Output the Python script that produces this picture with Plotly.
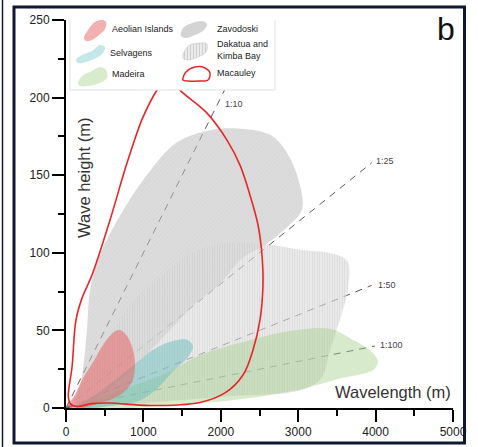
import plotly.graph_objects as go

# ---------------------------------------------------------------- data
# Outlines of each tsunami wave field in (wavelength m, wave height m)
aeolian_x = [26, 116, 207, 349, 504, 620, 698, 788, 866, 891, 853, 698, 439, 181, 26]
aeolian_y = [1.3, 8.4, 18, 29.6, 42.5, 49, 50.2, 46.4, 37.4, 26.4, 16.7, 8.4, 3.2, 0, 1.3]

selvagens_x = [155, 375, 630, 890, 1110, 1340, 1560, 1640, 1580, 1370, 1190, 960, 570, 245, 155]
selvagens_y = [1.3, 8.4, 18, 28, 37, 42.5, 44, 40, 33, 23, 13, 5, 1.3, 0, 1.3]

madeira_x = [120, 440, 960, 1300, 1730, 2250, 2890, 3410, 3670, 3930, 4030, 3970,
             3540, 3020, 2380, 1730, 1090, 440, 180, 120]
madeira_y = [1, 7, 16, 22.5, 34, 42, 49.6, 51, 45, 37, 30, 24.5,
             19, 12, 6.4, 3, 1, -1.3, -1.3, 1]

zavodoski_x = [120, 200, 270, 310, 440, 700, 1000, 1430, 1860, 2250, 2640, 2860,
               3020, 3050, 2890, 2570, 2290, 1950, 1730, 1340, 830, 440, 180, 120]
zavodoski_y = [2, 18, 50, 76, 99, 124, 147, 171, 179, 180, 176, 164,
               144, 128, 118, 105, 97, 78, 70, 50, 24, 8, 1, 2]

dakatua_x = [80, 310, 570, 890, 1210, 1600, 1990, 2510, 3020, 3480, 3640, 3640,
             3540, 3410, 3310, 3150, 2890, 2250, 1470, 700, 250, 80]
dakatua_y = [2, 24, 47, 70, 84, 99, 106, 106, 102, 99, 94, 76,
             57, 37, 20, 13.5, 10, 8, 5, 2, 0, 2]

macauley_x = [1189, 995, 788, 568, 336, 207, 129, 78, 30, 60, 150, 330, 560, 1085,
              1731, 2054, 2287, 2416, 2506, 2545, 2532, 2481, 2377, 2248, 2080,
              1822, 1473, 1318, 1189]
macauley_y = [206, 187.4, 157.8, 121, 85.7, 70.8, 56.7, 26.4, 7.5, 2.5, 1.0, 2.8, 3.2, 1.6,
              3.6, 9.7, 21.3, 37.4, 56.7, 79.2, 98.6, 117.9, 137.2, 156.5, 172.6,
              190, 204.8, 214.5, 206]

# Wave steepness reference lines (height : wavelength = 1 : n)
ratios = [10, 25, 50, 100]
ratio_labels = ["1:10", "1:25", "1:50", "1:100"]

x_ticks = [0, 1000, 2000, 3000, 4000, 5000]
y_ticks = [0, 50, 100, 150, 200, 250]

# ---------------------------------------------------------------- geometry
W, H = 478, 447
ML, MR, MT, MB = 66, 25, 20, 39
PW, PH = W - ML - MR, H - MT - MB


def pxx(p):
    """pixel column -> paper x"""
    return (p - ML) / PW


def pxy(p):
    """pixel row -> paper y"""
    return (H - MB - p) / PH


FONT = "Liberation Sans, Arial, sans-serif"

fig = go.Figure()

# steepness lines (under the wave fields)
ratio_end = {10: 2300, 25: 3950, 50: 3950, 100: 3990}
for r in ratios:
    xe = ratio_end[r]
    fig.add_trace(go.Scatter(
        x=[0, xe], y=[0, xe / r], mode="lines",
        line=dict(color="#5a5a5a", width=1, dash="7px,6px"),
        hoverinfo="skip", showlegend=False))

# wave fields
fig.add_trace(go.Scatter(
    x=zavodoski_x, y=zavodoski_y, mode="lines", fill="toself",
    line=dict(width=0, shape="spline", smoothing=1.0),
    fillcolor="rgba(185,185,185,0.55)",
    fillpattern=dict(shape="/", size=3, solidity=0.15,
                     bgcolor="rgba(190,190,190,0.55)", fgcolor="rgba(150,150,150,0.35)"),
    name="Zavodoski", showlegend=False, hoverinfo="skip"))

fig.add_trace(go.Scatter(
    x=dakatua_x, y=dakatua_y, mode="lines", fill="toself",
    line=dict(width=0, shape="spline", smoothing=1.0),
    fillpattern=dict(shape="|", size=2.5, solidity=0.3,
                     bgcolor="rgba(222,222,222,0.6)", fgcolor="rgba(160,160,160,0.55)"),
    name="Dakatua and Kimba Bay", showlegend=False, hoverinfo="skip"))

fig.add_trace(go.Scatter(
    x=madeira_x, y=madeira_y, mode="lines", fill="toself",
    line=dict(width=0, shape="spline", smoothing=1.0),
    fillcolor="rgba(160,205,130,0.42)",
    name="Madeira", showlegend=False, hoverinfo="skip"))

fig.add_trace(go.Scatter(
    x=selvagens_x, y=selvagens_y, mode="lines", fill="toself",
    line=dict(width=0, shape="spline", smoothing=1.0),
    fillcolor="rgba(105,190,190,0.5)",
    name="Selvagens", showlegend=False, hoverinfo="skip"))

fig.add_trace(go.Scatter(
    x=aeolian_x, y=aeolian_y, mode="lines", fill="toself",
    line=dict(width=0, shape="spline", smoothing=1.0),
    fillcolor="rgba(232,100,100,0.55)",
    name="Aeolian Islands", showlegend=False, hoverinfo="skip"))

fig.add_trace(go.Scatter(
    x=macauley_x, y=macauley_y, mode="lines",
    line=dict(color="#e8262a", width=1.6, shape="spline", smoothing=1.0),
    name="Macauley", showlegend=False, hoverinfo="skip"))

# steepness labels
label_pos = {10: (2030, 196), 25: (3980, 159), 50: (4005, 79), 100: (4031, 40.6)}
for r, t in zip(ratios, ratio_labels):
    lx, ly = label_pos[r]
    fig.add_annotation(x=lx, y=ly, xref="x", yref="y", text=t, showarrow=False,
                       xanchor="left", yanchor="middle",
                       font=dict(family=FONT, size=9, color="#444"))

# ---------------------------------------------------------------- key box
# drawn on a pixel-unit overlay so it sits above the curves
ov = dict(xaxis="x2", yaxis="y2", hoverinfo="skip", showlegend=False)
fig.add_trace(go.Scatter(
    x=[70, 275, 275, 70, 70], y=[18, 18, 90, 90, 18], mode="lines", fill="toself",
    fillcolor="white", line=dict(color="#e2e2e2", width=1), **ov))

key_items = [
    dict(xs=[84, 88, 95, 102, 106, 105, 99, 92, 86, 84],
         ys=[38, 30, 22, 20, 22, 29, 35, 40, 41, 38],
         fill="rgba(238,150,150,0.75)"),
    dict(xs=[76, 82, 92, 100, 105, 103, 96, 86, 78, 76],
         ys=[60, 55, 51, 45, 47, 53, 58, 62, 63, 60],
         fill="rgba(160,215,218,0.6)"),
    dict(xs=[78, 82, 92, 100, 106, 107, 100, 88, 80, 78],
         ys=[83, 76, 71, 67, 70, 78, 83, 86, 86, 83],
         fill="rgba(190,222,170,0.6)"),
    dict(xs=[181, 183, 192, 202, 207, 204, 195, 186, 181],
         ys=[36, 28, 23, 21, 24, 30, 35, 38, 36],
         fill="rgba(205,205,205,0.85)"),
]
for it in key_items:
    fig.add_trace(go.Scatter(
        x=it["xs"], y=it["ys"], mode="lines", fill="toself",
        fillcolor=it["fill"], line=dict(width=0, shape="spline", smoothing=1.0), **ov))

fig.add_trace(go.Scatter(
    x=[183, 185, 190, 200, 207, 206, 198, 188, 183],
    y=[58, 50, 45, 43, 44, 52, 57, 60, 58], mode="lines", fill="toself",
    line=dict(width=0.6, color="#c8c8c8", shape="spline", smoothing=1.0),
    fillpattern=dict(shape="|", size=3, solidity=0.3,
                     bgcolor="rgba(235,235,235,1)", fgcolor="rgba(170,170,170,1)"), **ov))

fig.add_trace(go.Scatter(
    x=[183, 186, 195, 205, 210, 208, 198, 188, 183],
    y=[80, 72, 67, 68, 73, 80, 81, 81, 80], mode="lines",
    line=dict(color="#e8262a", width=1.5, shape="spline", smoothing=1.0), **ov))

key_text = [
    ("Aeolian Islands", 110, 29),
    ("Selvagens", 108, 53),
    ("Madeira", 110, 74),
    ("Zavodoski", 215, 29),
    ("Dakatua and<br>Kimba Bay", 215, 50),
    ("Macauley", 215, 73),
]
for t, tx, ty in key_text:
    fig.add_annotation(x=pxx(tx), y=pxy(ty), xref="paper", yref="paper", text=t,
                       showarrow=False, xanchor="left", yanchor="middle", align="left",
                       font=dict(family=FONT, size=9, color="#222"))

# ---------------------------------------------------------------- titles
fig.add_annotation(x=pxx(84), y=pxy(178), xref="paper", yref="paper",
                   text="Wave height (m)", textangle=-90, showarrow=False,
                   xanchor="center", yanchor="middle",
                   font=dict(family=FONT, size=16.5, color="#333"))
fig.add_annotation(x=pxx(393), y=pxy(392), xref="paper", yref="paper",
                   text="Wavelength (m)", showarrow=False,
                   xanchor="center", yanchor="middle",
                   font=dict(family=FONT, size=16.5, color="#333"))
fig.add_annotation(x=pxx(446), y=pxy(29), xref="paper", yref="paper",
                   text="b", showarrow=False,
                   xanchor="center", yanchor="middle",
                   font=dict(family=FONT, size=32, color="#111"))

# panel frame
fig.add_shape(type="rect", xref="paper", yref="paper",
              x0=pxx(14), x1=pxx(464.5), y0=pxy(443), y1=pxy(7),
              line=dict(color="#0e1830", width=3), layer="above")
fig.add_shape(type="line", xref="paper", yref="paper",
              x0=pxx(2.5), x1=pxx(2.5), y0=pxy(447), y1=pxy(0),
              line=dict(color="#0e1830", width=1.5), layer="above")

axis_common = dict(
    showgrid=False, zeroline=False, showline=True, linewidth=2, linecolor="black",
    ticks="outside", ticklen=12, tickwidth=2, tickcolor="black", automargin=False,
    tickfont=dict(family=FONT, size=12, color="#222"),
)
fig.update_layout(
    width=W, height=H,
    margin=dict(l=ML, r=MR, t=MT, b=MB),
    paper_bgcolor="white", plot_bgcolor="white",
    showlegend=False,
    xaxis=dict(range=[0, 5000], tickmode="array", tickvals=x_ticks,
               minor=dict(tickvals=[500, 1500, 2500, 3500, 4500], ticks="outside",
                          ticklen=6, tickwidth=2, tickcolor="black", showgrid=False),
               **axis_common),
    yaxis=dict(range=[0, 250], tickmode="array", tickvals=y_ticks,
               minor=dict(tickvals=[25, 75, 125, 175, 225], ticks="outside",
                          ticklen=6, tickwidth=2, tickcolor="black", showgrid=False),
               **axis_common),
    xaxis2=dict(overlaying="x", range=[ML, W - MR], visible=False, fixedrange=True),
    yaxis2=dict(overlaying="y", range=[H - MB, MT], visible=False, fixedrange=True),
)

fig.write_html("out.html")
